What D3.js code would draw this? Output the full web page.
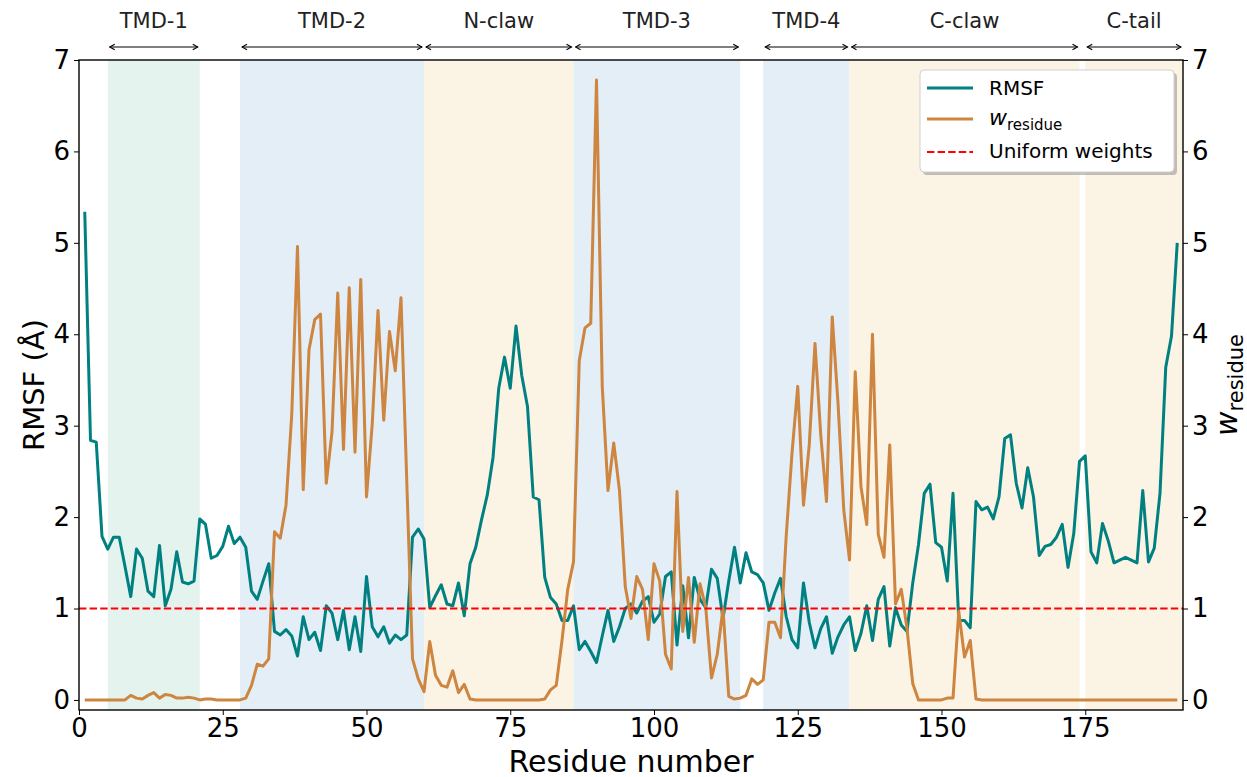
<!DOCTYPE html>
<html>
<head>
<meta charset="utf-8">
<script src="https://cdn.jsdelivr.net/npm/d3@7/dist/d3.min.js"></script>
<style>
body { margin: 0; background: white; }
svg { display: block; font-family: "DejaVu Sans", sans-serif; }
</style>
</head>
<body>
<svg width="1247" height="777"></svg>
<script>
// RMSF per residue (residues 1..191)
const rmsf = [
  5.34, 2.84, 2.82, 1.79, 1.65, 1.78, 1.78, 1.46, 1.13, 1.65,
  1.55, 1.19, 1.13, 1.69, 1.03, 1.21, 1.62, 1.29, 1.27, 1.30,
  1.98, 1.92, 1.55, 1.58, 1.68, 1.90, 1.71, 1.78, 1.67, 1.19,
  1.10, 1.30, 1.49, 0.75, 0.71, 0.77, 0.70, 0.48, 0.91, 0.66,
  0.74, 0.54, 1.03, 0.95, 0.66, 0.98, 0.55, 0.91, 0.53, 1.35,
  0.80, 0.69, 0.80, 0.62, 0.71, 0.66, 0.71, 1.78, 1.87, 1.76,
  1.01, 1.14, 1.26, 1.05, 1.03, 1.28, 0.92, 1.49, 1.67, 1.97,
  2.24, 2.65, 3.41, 3.75, 3.41, 4.09, 3.55, 3.21, 2.22, 2.19,
  1.34, 1.12, 1.05, 0.87, 0.87, 1.03, 0.55, 0.64, 0.53, 0.41,
  0.70, 0.98, 0.64, 0.80, 1.00, 1.05, 0.95, 1.08, 1.13, 0.85,
  0.94, 1.35, 1.40, 0.60, 1.25, 0.68, 1.34, 1.10, 1.01, 1.43,
  1.33, 0.89, 1.30, 1.67, 1.28, 1.61, 1.40, 1.37, 1.28, 0.98,
  1.17, 1.33, 0.91, 0.66, 0.57, 1.28, 0.85, 0.57, 0.78, 0.91,
  0.51, 0.69, 0.82, 0.91, 0.54, 0.73, 1.03, 0.65, 1.10, 1.24,
  0.59, 1.01, 0.82, 0.75, 1.28, 1.70, 2.26, 2.36, 1.72, 1.67,
  1.30, 2.26, 0.87, 0.87, 0.79, 2.17, 2.08, 2.11, 1.98, 2.22,
  2.86, 2.90, 2.37, 2.10, 2.54, 2.22, 1.58, 1.68, 1.70, 1.78,
  1.92, 1.45, 1.82, 2.61, 2.67, 1.62, 1.50, 1.93, 1.74, 1.50,
  1.53, 1.56, 1.53, 1.50, 2.29, 1.51, 1.66, 2.26, 3.64, 3.98,
  5.00
];

// w_residue per residue (residues 1..191)
const wResidue = [
  0, 0, 0, 0, 0, 0, 0, 0, 0.05, 0.02,
  0.01, 0.05, 0.08, 0.02, 0.06, 0.05, 0.02, 0.02, 0.03, 0.02,
  0, 0.01, 0.01, 0, 0, 0, 0, 0, 0.02, 0.16,
  0.39, 0.37, 0.45, 1.84, 1.77, 2.13, 3.12, 4.96, 2.30, 3.83,
  4.16, 4.22, 2.37, 2.93, 4.45, 2.74, 4.51, 2.71, 4.60, 2.22,
  3.02, 4.26, 3.06, 4.03, 3.60, 4.40, 2.40, 0.45, 0.23, 0.09,
  0.64, 0.27, 0.16, 0.14, 0.32, 0.08, 0.17, 0.01, 0, 0,
  0, 0, 0, 0, 0, 0, 0, 0, 0, 0,
  0.01, 0.11, 0.16, 0.65, 1.21, 1.51, 3.71, 4.07, 4.12, 6.78,
  3.43, 2.29, 2.81, 2.29, 1.24, 0.89, 1.35, 1.21, 0.66, 1.49,
  1.30, 0.50, 0.34, 2.28, 0.75, 1.34, 0.63, 1.27, 1.01, 0.24,
  0.50, 1.00, 0.04, 0.01, 0.02, 0.05, 0.23, 0.17, 0.22, 0.85,
  0.85, 0.68, 1.80, 2.70, 3.43, 2.13, 2.79, 3.90, 2.90, 2.17,
  4.19, 3.25, 2.08, 1.53, 3.59, 2.33, 1.92, 4.00, 1.81, 1.56,
  2.79, 1.05, 1.21, 0.78, 0.18, 0, 0, 0, 0, 0,
  0.02, 0.02, 0.97, 0.47, 0.65, 0.01, 0, 0, 0, 0,
  0, 0, 0, 0, 0, 0, 0, 0, 0, 0,
  0, 0, 0, 0, 0, 0, 0, 0, 0, 0,
  0, 0, 0, 0, 0, 0, 0, 0, 0, 0,
  0
];

const regionNames = ['TMD-1', 'TMD-2', 'N-claw', 'TMD-3', 'TMD-4', 'C-claw', 'C-tail'];
const regionStart = [5, 28, 60, 86, 119, 134, 175];
const regionEnd   = [21, 60, 86, 115, 134, 174, 192];
const regionKind  = ['green', 'blue', 'beige', 'blue', 'blue', 'beige', 'beige'];

const xTicks = [0, 25, 50, 75, 100, 125, 150, 175];
const yTicks = [0, 1, 2, 3, 4, 5, 6, 7];
const uniformWeight = 1;

const svg = d3.select('svg');
const width = +svg.attr('width');
const height = +svg.attr('height');

const margin = {top: 60, bottom: 67, left: 79, right: 64};
const innerWidth = width - margin.left - margin.right;
const innerHeight = height - margin.top - margin.bottom;

const teal = '#008080';
const peru = '#cd853f';
const spanColor = {green: '#e4f3ee', blue: '#e3eef7', beige: '#fbf3e4'};

const xScale = d3.scaleLinear().domain([0, 192]).range([0, innerWidth]);
const yScale = d3.scaleLinear().domain([-0.11, 7]).range([innerHeight, 0]);

const g = svg.append('g')
  .attr('transform', `translate(${margin.left},${margin.top})`);

// regions
const regions = regionNames.map((name, i) => ({
  name, start: regionStart[i], end: regionEnd[i], kind: regionKind[i]
}));

g.selectAll('rect.span')
  .data(regions)
  .enter()
  .append('rect')
  .attr('class', 'span')
  .attr('x', d => xScale(d.start))
  .attr('y', 0)
  .attr('width', d => xScale(d.end) - xScale(d.start))
  .attr('height', innerHeight)
  .attr('fill', d => spanColor[d.kind]);

// arrows + labels above the plot
const defs = svg.append('defs');
defs.append('marker')
  .attr('id', 'head')
  .attr('viewBox', '-6 -4 7 8')
  .attr('refX', 0).attr('refY', 0)
  .attr('markerWidth', 7).attr('markerHeight', 8)
  .attr('markerUnits', 'userSpaceOnUse')
  .attr('orient', 'auto-start-reverse')
  .append('path')
  .attr('d', 'M-5,-2.8 L0,0 L-5,2.8')
  .attr('fill', 'none')
  .attr('stroke', 'black')
  .attr('stroke-width', 1.1);

g.selectAll('line.arrow')
  .data(regions)
  .enter()
  .append('line')
  .attr('class', 'arrow')
  .attr('x1', d => xScale(d.start) + 2)
  .attr('x2', d => xScale(d.end) - 2)
  .attr('y1', -13).attr('y2', -13)
  .attr('stroke', 'black')
  .attr('stroke-width', 1.1)
  .attr('marker-start', 'url(#head)')
  .attr('marker-end', 'url(#head)');

g.selectAll('text.region')
  .data(regions)
  .enter()
  .append('text')
  .attr('class', 'region')
  .attr('x', d => (xScale(d.start) + xScale(d.end)) / 2)
  .attr('y', -32)
  .attr('text-anchor', 'middle')
  .attr('font-size', 21)
  .attr('fill', '#222')
  .text(d => d.name);

// lines
const rmsfData = rmsf.map((v, i) => ({res: i + 1, v}));
const wData = wResidue.map((v, i) => ({res: i + 1, v}));

const lineGen = d3.line()
  .x(d => xScale(d.res))
  .y(d => yScale(d.v));

g.append('path')
  .datum(rmsfData)
  .attr('d', lineGen)
  .attr('fill', 'none')
  .attr('stroke', teal)
  .attr('stroke-width', 3)
  .attr('stroke-linejoin', 'round');

g.append('path')
  .datum(wData)
  .attr('d', lineGen)
  .attr('fill', 'none')
  .attr('stroke', peru)
  .attr('stroke-width', 3)
  .attr('stroke-linejoin', 'round');

g.append('line')
  .attr('x1', 0).attr('x2', innerWidth)
  .attr('y1', yScale(uniformWeight)).attr('y2', yScale(uniformWeight))
  .attr('stroke', 'red')
  .attr('stroke-width', 2)
  .attr('stroke-dasharray', '7.4,3.2');

// axes
const styleAxis = sel => {
  sel.select('.domain').remove();
  sel.selectAll('text').attr('font-size', 26).attr('fill', 'black')
    .attr('font-family', '"DejaVu Sans", sans-serif');
  sel.selectAll('line').attr('stroke', 'black');
};

g.append('g')
  .attr('transform', `translate(0,${innerHeight})`)
  .call(d3.axisBottom(xScale).tickValues(xTicks).tickSize(5).tickPadding(4))
  .call(styleAxis);

g.append('g')
  .call(d3.axisLeft(yScale).tickValues(yTicks).tickSize(5).tickPadding(4))
  .call(styleAxis);

g.append('g')
  .attr('transform', `translate(${innerWidth},0)`)
  .call(d3.axisRight(yScale).tickValues(yTicks).tickSize(5).tickPadding(4))
  .call(styleAxis);

// frame
g.append('rect')
  .attr('width', innerWidth)
  .attr('height', innerHeight)
  .attr('fill', 'none')
  .attr('stroke', 'black')
  .attr('stroke-width', 1.4);

// axis titles
svg.append('text')
  .attr('x', margin.left + innerWidth / 2)
  .attr('y', 772)
  .attr('text-anchor', 'middle')
  .attr('font-size', 30)
  .text('Residue number');

svg.append('text')
  .attr('transform', `translate(44,${margin.top + innerHeight / 2}) rotate(-90)`)
  .attr('text-anchor', 'middle')
  .attr('font-size', 29)
  .text('RMSF (Å)');

const rightTitle = svg.append('text')
  .attr('transform', `translate(1237,${margin.top + innerHeight / 2}) rotate(-90)`)
  .attr('text-anchor', 'middle');
rightTitle.append('tspan').attr('font-style', 'italic').attr('font-size', 30).text('w');
rightTitle.append('tspan').attr('font-size', 21).attr('dy', 6).text('residue');

// legend
const legend = svg.append('g').attr('transform', 'translate(920,70)');
legend.append('rect')
  .attr('x', 3).attr('y', 3)
  .attr('width', 254).attr('height', 102)
  .attr('rx', 4)
  .attr('fill', '#888').attr('opacity', 0.5);
legend.append('rect')
  .attr('width', 254).attr('height', 102)
  .attr('rx', 4)
  .attr('fill', 'white')
  .attr('stroke', '#d0d0d0');

const legendItems = [
  {color: teal, dash: null, y: 18},
  {color: peru, dash: null, y: 49},
  {color: 'red', dash: '7.4,3.2', y: 82}
];

legendItems.forEach(item => {
  legend.append('line')
    .attr('x1', 7).attr('x2', 53)
    .attr('y1', item.y).attr('y2', item.y)
    .attr('stroke', item.color)
    .attr('stroke-width', item.dash ? 2 : 3)
    .attr('stroke-dasharray', item.dash);
});

legend.append('text').attr('x', 69).attr('y', 25).attr('font-size', 20).text('RMSF');
const wLabel = legend.append('text').attr('x', 69).attr('y', 55).attr('font-size', 20);
wLabel.append('tspan').attr('font-style', 'italic').attr('font-size', 22).text('w');
wLabel.append('tspan').attr('font-size', 15).attr('dy', 5).text('residue');
legend.append('text').attr('x', 69).attr('y', 88).attr('font-size', 20).text('Uniform weights');
</script>
</body>
</html>
